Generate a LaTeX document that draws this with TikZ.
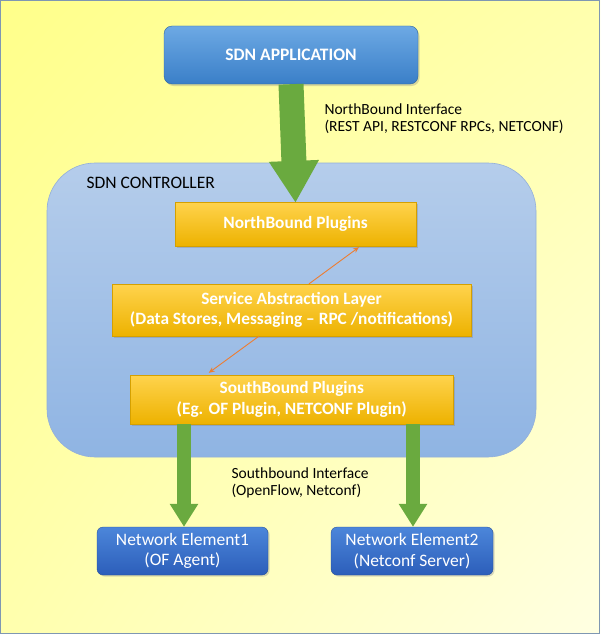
\documentclass[tikz,border=0pt]{standalone}
\usepackage{fontspec}
\setmainfont{Carlito}
\usetikzlibrary{arrows.meta,shadows,shadings}

\definecolor{bgtop}{HTML}{FFFF8A}
\definecolor{bgbot}{HTML}{FFFFE2}
\definecolor{frame}{HTML}{7F97B2}
\definecolor{apptop}{HTML}{6DA9E4}
\definecolor{appbot}{HTML}{3A7FC8}
\definecolor{ctrltop}{HTML}{B5CDEB}
\definecolor{ctrlbot}{HTML}{8FB4E3}
\definecolor{ctrledge}{HTML}{93AFD9}
\definecolor{plugtop}{HTML}{FFD34D}
\definecolor{plugbot}{HTML}{EDB200}
\definecolor{netop}{HTML}{4C86DA}
\definecolor{nebot}{HTML}{2C5EBA}
\definecolor{arrowgreen}{HTML}{6AAA3F}
\definecolor{linkorange}{HTML}{ED7D31}

\tikzset{
  appbox/.style={rounded corners=8pt, top color=apptop, bottom color=appbot,
    draw=appbot!80!black, line width=.4pt, text=white,
    font=\bfseries\fontsize{17.5}{20}\selectfont,
    minimum width=254pt, minimum height=58pt,
    drop shadow={shadow xshift=1.5pt, shadow yshift=-2pt, opacity=.3}},
  ctrlbox/.style={rounded corners=48pt, top color=ctrltop, bottom color=ctrlbot,
    draw=ctrledge, line width=.6pt, minimum width=489pt, minimum height=294pt},
  plugbox/.style={top color=plugtop, bottom color=plugbot, draw=plugbot!90!black,
    line width=.3pt, text=white, align=center,
    font=\bfseries\fontsize{17.3}{20.5}\selectfont, inner sep=1pt,
    drop shadow={shadow xshift=1.5pt, shadow yshift=-1.5pt, opacity=.35}},
  nebox/.style={rounded corners=6pt, top color=netop, bottom color=nebot,
    draw=nebot!80!black, line width=.3pt, text=white, align=center,
    font=\fontsize{17.5}{20.5}\selectfont, minimum height=48pt, inner sep=1pt,
    drop shadow={shadow xshift=1.5pt, shadow yshift=-1.5pt, opacity=.3}},
  iftext/.style={anchor=west, align=left, text=black,
    font=\fontsize{15.5}{17}\selectfont},
  bigarrow/.style={draw=arrowgreen, line width=25pt,
    -{Triangle[width=47pt, length=42pt]}},
  smallarrow/.style={draw=arrowgreen, line width=13.5pt,
    -{Triangle[width=27pt, length=23pt]}},
  linkarrow/.style={draw=linkorange, line width=.9pt,
    -{Stealth[length=6pt, width=5pt]}},
}

\begin{document}
\begin{tikzpicture}[x=1pt, y=-1pt]
  \useasboundingbox (0,0) rectangle (600,634);

  % Hintergrund
  \shade[upper left=bgtop, upper right=bgtop!60!bgbot,
         lower left=bgtop!60!bgbot, lower right=bgbot] (0,0) rectangle (600,634);
  \draw[frame, line width=1.2pt] (0.6,0.6) rectangle (599.4,633.4);

  % Anwendung
  \node[appbox] (app) at (291,55) {SDN APPLICATION};
  \node[iftext] (nbif) at (321,118.5)
    {NorthBound Interface\\(REST API, RESTCONF RPCs, NETCONF)};

  % Controller
  \node[ctrlbox] (ctrl) at (291.5,310) {};
  \node[anchor=west, font=\fontsize{17.5}{20}\selectfont] (ctrltitle) at (83,183)
    {SDN CONTROLLER};

  \node[plugbox, minimum width=241pt, minimum height=44pt] (nbp) at (295.5,224)
    {NorthBound Plugins};
  \node[plugbox, minimum width=359pt, minimum height=52pt] (sal) at (291.5,310)
    {Service Abstraction Layer\\(Data Stores, Messaging -- RPC /notifications)};
  \node[plugbox, minimum width=323pt, minimum height=49pt] (sbp) at (291.75,399.5)
    {SouthBound Plugins\\(Eg. OF Plugin, NETCONF Plugin)};

  % Netzelemente
  \node[nebox, minimum width=171pt] (ne1) at (182.5,551)
    {Network Element1\\(OF Agent)};
  \node[nebox, minimum width=162pt] (ne2) at (412,551)
    {Network Element2\\(Netconf Server)};
  \node[iftext] (sbif) at (228,483)
    {Southbound Interface\\(OpenFlow, Netconf)};

  % Verbindungen
  \draw[bigarrow] (app.south) -- ([yshift=-1pt]nbp.north);
  \draw[smallarrow] ([xshift=1.5pt]sbp.south -| ne1.north) -- ([xshift=1.5pt]ne1.north);
  \draw[smallarrow] ([xshift=1pt]sbp.south -| ne2.north) -- ([xshift=1pt]ne2.north);
  \draw[linkarrow] ([xshift=17.5pt]sal.north) -- ([xshift=63.5pt, yshift=-1pt]nbp.south);
  \draw[linkarrow] ([xshift=-32.5pt]sal.south) -- ([xshift=-83pt, yshift=2pt]sbp.north);
\end{tikzpicture}
\end{document}
